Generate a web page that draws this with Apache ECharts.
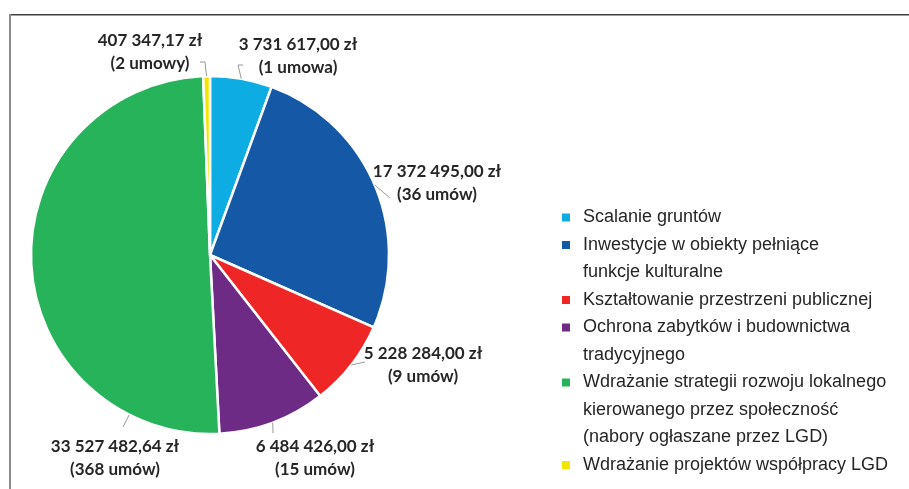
<!DOCTYPE html>
<html>
<head>
<meta charset="utf-8">
<script src="https://cdn.jsdelivr.net/npm/echarts@6/dist/echarts.min.js"></script>
<style>
html,body{margin:0;padding:0;background:#fff;}
#chart{width:909px;height:489px;}
</style>
</head>
<body>
<div id="chart"></div>
<script>
// ---- data ----
const categories = [
  'Scalanie gruntów',
  'Inwestycje w obiekty pełniące\nfunkcje kulturalne',
  'Kształtowanie przestrzeni publicznej',
  'Ochrona zabytków i budownictwa\ntradycyjnego',
  'Wdrażanie strategii rozwoju lokalnego\nkierowanego przez społeczność\n(nabory ogłaszane przez LGD)',
  'Wdrażanie projektów współpracy LGD'
];
const amounts = [3731617.00, 17372495.00, 5228284.00, 6484426.00, 33527482.64, 407347.17];
const contracts = [1, 36, 9, 15, 368, 2];

// ---- style ----
const colors = ['#0DADE4', '#1558A6', '#EE2726', '#6E2B86', '#27B35A', '#F2E600'];
const pieCenter = [210, 255];
const pieRadius = 179;
// label centre offsets from the pie centre (layout only)
const labelOffsets = [[88, -199], [227, -72], [213, 110], [105, 203], [-95, 203], [-60, -203]];
// leader-line elbow relative to label centre, and small horizontal tick toward the label
const leaderElbow = [[-60, 9], [-47, 15], [-58, -3], [-42, -25], [8, -31], [55, 10]];
const leaderTick = [5, 0, 0, 0, 0, -5];
const legendLineHeight = 27.5;
const legendFirstLine = 217.5;
const legendLeft = 560;

function fmtMoney(v) {
  const parts = v.toFixed(2).split('.');
  return parts[0].replace(/\B(?=(\d{3})+(?!\d))/g, ' ') + ',' + parts[1] + ' zł';
}
function umowWord(n) {
  if (n === 1) return 'umowa';
  const m10 = n % 10, m100 = n % 100;
  if (m10 >= 2 && m10 <= 4 && !(m100 >= 12 && m100 <= 14)) return 'umowy';
  return 'umów';
}

// slice angles (degrees clockwise from 12 o'clock), derived from the data
const total = amounts.reduce((a, b) => a + b, 0);
const sliceStart = [], sliceEnd = [];
amounts.reduce((acc, v, i) => {
  sliceStart[i] = acc / total * 360;
  sliceEnd[i] = (acc + v) / total * 360;
  return acc + v;
}, 0);

function arcPoint(deg) {
  const r = deg * Math.PI / 180;
  return [pieCenter[0] + pieRadius * Math.sin(r), pieCenter[1] - pieRadius * Math.cos(r)];
}
function labelPos(i) {
  return [pieCenter[0] + labelOffsets[i][0], pieCenter[1] + labelOffsets[i][1]];
}
// leader line: from the slice's arc to an elbow next to its label
function leaderPoints(i) {
  const L = labelPos(i);
  const E = [L[0] + leaderElbow[i][0], L[1] + leaderElbow[i][1]];
  const mid = (sliceStart[i] + sliceEnd[i]) / 2;
  let angE = Math.atan2(E[0] - pieCenter[0], pieCenter[1] - E[1]) * 180 / Math.PI;
  if (angE < 0) angE += 360;
  let ang = mid;
  if (Math.abs(angE - mid) > 30) {
    ang = Math.min(Math.max(angE, sliceStart[i] + 1), sliceEnd[i] - 1);
  }
  const pts = [arcPoint(ang), E];
  if (leaderTick[i]) pts.push([E[0] + leaderTick[i], E[1]]);
  return pts;
}

const chart = echarts.init(document.getElementById('chart'), null, {renderer: 'canvas'});

const seriesData = categories.map((name, i) => ({
  name: name,
  value: amounts[i],
  itemStyle: {color: colors[i]}
}));

// one legend block per category so the square sits on the first text line
let lineIdx = 0;
const legends = categories.map(name => {
  const n = name.split('\n').length;
  const c = legendFirstLine + lineIdx * legendLineHeight;
  lineIdx += n;
  return {
    orient: 'vertical',
    left: legendLeft,
    top: c - (2 * n - 1) * legendLineHeight / 2,
    padding: 0,
    itemWidth: 10,
    itemHeight: 10,
    icon: 'rect',
    selectedMode: false,
    data: [{name: name}],
    formatter: nm => '\n'.repeat(n - 1) + nm,
    textStyle: {
      fontFamily: 'Liberation Sans, Arial, sans-serif',
      fontSize: 18,
      lineHeight: legendLineHeight,
      color: '#262626',
      padding: [0, 0, 0, 7]
    }
  };
});

const leaderGraphics = categories.map((_, i) => ({
  type: 'polyline',
  shape: {points: leaderPoints(i)},
  style: {stroke: '#999999', lineWidth: 1, fill: null},
  silent: true,
  z: 100,
  zlevel: 1
}));

const option = {
  animation: false,
  backgroundColor: '#ffffff',
  legend: legends,
  graphic: [
    {type: 'line', shape: {x1: 10, y1: 14.75, x2: 909, y2: 14.75}, style: {stroke: '#404040', lineWidth: 1.5}, silent: true},
    {type: 'line', shape: {x1: 10, y1: 14, x2: 10, y2: 489}, style: {stroke: '#8a8a8a', lineWidth: 2}, silent: true}
  ].concat(leaderGraphics),
  series: [{
    type: 'pie',
    center: pieCenter,
    radius: pieRadius,
    startAngle: 90,
    clockwise: true,
    avoidLabelOverlap: false,
    data: seriesData,
    itemStyle: {borderColor: '#ffffff', borderWidth: 2.5},
    emphasis: {disabled: true},
    label: {
      show: true,
      position: 'outside',
      formatter: p => fmtMoney(amounts[p.dataIndex]) + '\n(' + contracts[p.dataIndex] + ' ' + umowWord(contracts[p.dataIndex]) + ')',
      fontFamily: 'Lato, sans-serif',
      fontWeight: 'bold',
      fontSize: 17,
      lineHeight: 23,
      color: '#262626',
      backgroundColor: 'transparent',
      padding: 0
    },
    labelLine: {show: false},
    labelLayout: function (params) {
      const L = labelPos(params.dataIndex);
      return {
        x: L[0],
        y: L[1],
        align: 'center',
        verticalAlign: 'middle'
      };
    }
  }]
};
chart.setOption(option);
</script>
</body>
</html>
